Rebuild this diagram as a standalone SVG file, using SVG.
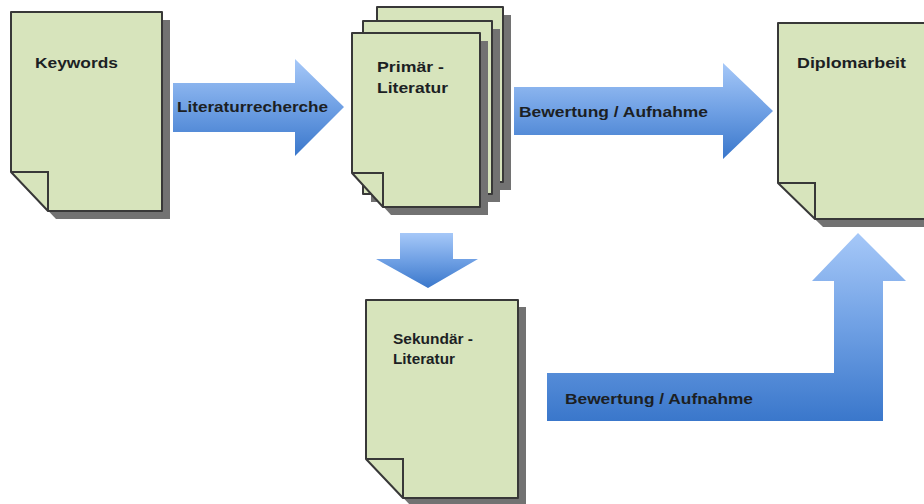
<svg xmlns="http://www.w3.org/2000/svg" width="924" height="504" viewBox="0 0 924 504">
<defs>
<linearGradient id="blue" x1="0" y1="0" x2="0" y2="1">
<stop offset="0" stop-color="#a6c8f8"/>
<stop offset="0.5" stop-color="#6fa0e4"/>
<stop offset="1" stop-color="#3a77cb"/>
</linearGradient>
<style>
.doc{fill:#d7e4bc;stroke:#383838;stroke-width:2;stroke-linejoin:round}
.sh{fill:#727272}
.fold{fill:none;stroke:#383838;stroke-width:2}
.arr{fill:url(#blue)}
.t{font-family:"Liberation Sans",Arial,sans-serif;font-weight:bold;fill:#1c1f24}
</style>
</defs>
<rect width="924" height="504" fill="#ffffff"/>

<g id="connectors">
<path class="arr" d="M173,83 H295 V59 L344,107 L295,156 V132 H173 Z"/>
<text class="t" x="177" y="112" font-size="14" textLength="151" lengthAdjust="spacingAndGlyphs">Literaturrecherche</text>
<path class="arr" d="M514,87 H723 V63 L773,111 L723,159 V135 H514 Z"/>
<text class="t" x="519" y="117" font-size="14" textLength="189" lengthAdjust="spacingAndGlyphs">Bewertung / Aufnahme</text>
<path class="arr" d="M400,233 H453 V259 H478 L428,288 L376,259 H400 Z"/>
<path class="arr" d="M547,373 H834 V281 H812 L858,233 L906,281 H883 V421 H547 Z"/>
<text class="t" x="565" y="404" font-size="14" textLength="188" lengthAdjust="spacingAndGlyphs">Bewertung / Aufnahme</text>
</g>

<g id="keywords">
<path class="sh" d="M19,20 H170 V219 H56 L19,180 Z"/>
<path class="doc" d="M11,12 H162 V211 H48 L11,172 Z"/>
<path class="fold" d="M11,172 H48 V211"/>
<text class="t" x="35" y="68" font-size="15" textLength="83" lengthAdjust="spacingAndGlyphs">Keywords</text>
</g>

<g id="primaer">
<rect class="sh" x="385" y="15" width="126" height="175"/>
<rect class="doc" x="377" y="7" width="126" height="175"/>
<rect class="sh" x="371" y="29" width="129" height="173"/>
<rect class="doc" x="363" y="21" width="129" height="173"/>
<path class="sh" d="M360,41 H488 V215 H391 L360,181 Z"/>
<path class="doc" d="M352,33 H480 V207 H383 L352,173 Z"/>
<path class="fold" d="M352,173 H383 V207"/>
<text class="t" x="377" y="72" font-size="15" textLength="67" lengthAdjust="spacingAndGlyphs">Primär -</text>
<text class="t" x="377" y="93" font-size="15" textLength="71" lengthAdjust="spacingAndGlyphs">Literatur</text>
</g>

<g id="diplomarbeit">
<path class="sh" d="M786,31 H948 V227 H823 L786,191 Z"/>
<path class="doc" d="M778,23 H940 V219 H815 L778,183 Z"/>
<path class="fold" d="M778,183 H815 V219"/>
<text class="t" x="797" y="68" font-size="15" textLength="109" lengthAdjust="spacingAndGlyphs">Diplomarbeit</text>
</g>

<g id="sekundaer">
<path class="sh" d="M374,307 H526 V506 H411 L374,467 Z"/>
<path class="doc" d="M366,300 H518 V498 H403 L366,459 Z"/>
<path class="fold" d="M366,459 H403 V498"/>
<text class="t" x="393" y="344" font-size="14" textLength="80" lengthAdjust="spacingAndGlyphs">Sekundär -</text>
<text class="t" x="393" y="364" font-size="14" textLength="62" lengthAdjust="spacingAndGlyphs">Literatur</text>
</g>
</svg>
